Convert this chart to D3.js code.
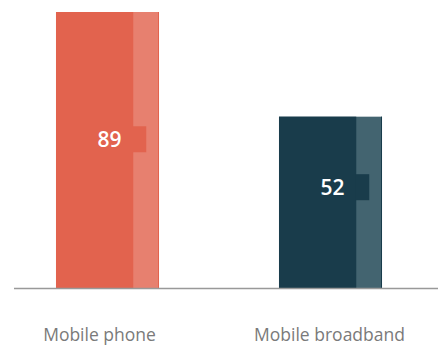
<!DOCTYPE html>
<html><head><meta charset="utf-8">
<script src="https://cdn.jsdelivr.net/npm/d3@7"></script>
<style>html,body{margin:0;padding:0;background:#fff;}svg{display:block;}</style>
</head><body>
<svg id="c" width="438" height="346"></svg>
<script>
const categories = ["Mobile phone", "Mobile broadband"];
const values = [89, 52];
const darkColors = ["#E2634E", "#193C4B"];
const lightColors = ["#E7806F", "#436470"];

const svg = d3.select("#c");
const x = d3.scaleBand().domain(categories).range([-4, 442]).paddingInner(0.538).paddingOuter(0.269);
const y = d3.scaleLinear().domain([-8.56, 89]).range([288, 12]);
const bw = x.bandwidth();

const g = svg.selectAll("g.bar").data(categories).join("g").attr("class", "bar");
g.append("rect")
  .attr("x", d => x(d)).attr("y", (d, i) => y(values[i]))
  .attr("width", bw).attr("height", (d, i) => 288 - y(values[i]))
  .attr("fill", (d, i) => lightColors[i]);
g.append("rect")
  .attr("x", d => x(d)).attr("y", (d, i) => y(values[i]))
  .attr("width", bw * 0.75).attr("height", (d, i) => 288 - y(values[i]))
  .attr("fill", (d, i) => darkColors[i]);
g.append("rect")
  .attr("x", d => x(d) + bw - 1).attr("y", (d, i) => y(values[i]))
  .attr("width", 1).attr("height", (d, i) => 288 - y(values[i]))
  .attr("fill", (d, i) => darkColors[i]);
const labelY = (v) => y(v) + 0.542 * (y(6) - y(v));
g.append("rect")
  .attr("x", d => x(d) + bw * 0.75 - 0.5).attr("y", (d, i) => labelY(values[i]) - 13)
  .attr("width", 13.5).attr("height", 26)
  .attr("fill", (d, i) => darkColors[i]);
g.append("text")
  .attr("x", d => x(d) + bw * 0.52).attr("y", (d, i) => labelY(values[i]) + 7.5)
  .attr("text-anchor", "middle")
  .attr("font-family", "Open Sans, sans-serif").attr("font-size", 21).attr("font-weight", 600)
  .attr("fill", "#fff")
  .text((d, i) => values[i]);

svg.append("line").attr("x1", 14).attr("x2", 438).attr("y1", 288.5).attr("y2", 288.5)
  .attr("stroke", "#999").attr("stroke-width", 1.5);

svg.selectAll("text.cat").data(categories).join("text").attr("class", "cat")
  .attr("x", (d, i) => x(d) + bw / 2 + (i === 0 ? -8 : -1)).attr("y", 341)
  .attr("text-anchor", "middle")
  .attr("font-family", "Open Sans, sans-serif").attr("font-size", 17.5).attr("font-weight", 400)
  .attr("fill", "#7a7a7a")
  .text(d => d);
</script>
</body></html>
